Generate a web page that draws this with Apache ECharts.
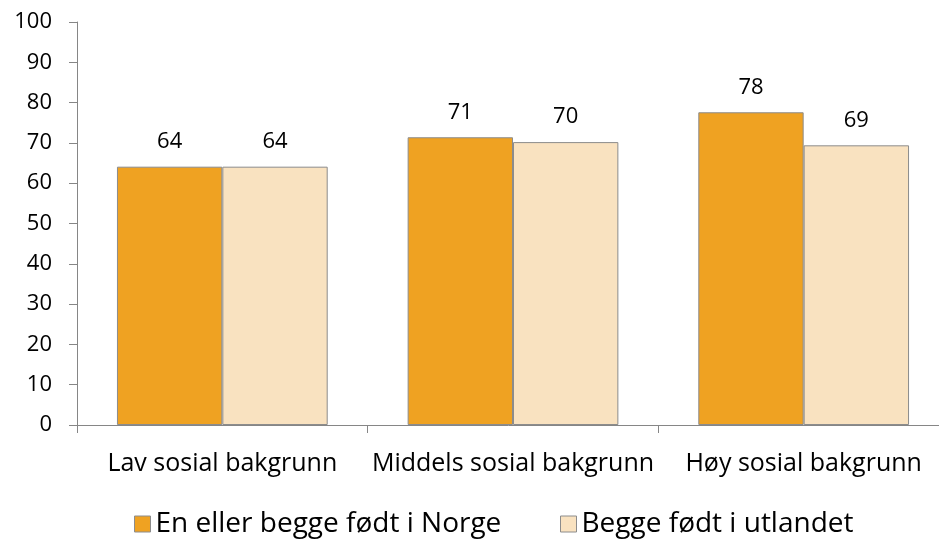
<!DOCTYPE html>
<html lang="no">

<head>
    <meta charset="UTF-8">
    <title>Sosial bakgrunn</title>
    <style>
        * {
            margin: 0;
            padding: 0;
        }

        #main {
            width: 939px;
            height: 541px;
            background-color: #ffffff;
        }
    </style>
</head>
<script src="https://cdn.jsdelivr.net/npm/echarts@6/dist/echarts.min.js"></script>

<body>
    <div id="main"></div>
    <script>
        // data
        var categories = ['Lav sosial bakgrunn', 'Middels sosial bakgrunn', 'Høy sosial bakgrunn'];
        var seriesNames = ['En eller begge født i Norge', 'Begge født i utlandet'];
        var norge = [64.1, 71.4, 77.6];
        var utlandet = [64.1, 70.2, 69.4];

        var colors = ['#EFA222', '#F9E2C0'];
        var fontFam = 'Open Sans';
        var greyLine = '#868686';

        var chartDom = document.getElementById('main');
        var myChart = echarts.init(chartDom);

        function barSeries(name, data, color) {
            return {
                name: name,
                type: 'bar',
                data: data,
                barGap: '0%',
                barCategoryGap: '27.5%',
                itemStyle: {
                    color: color,
                    borderColor: '#8c8c8c',
                    borderWidth: 1
                },
                label: {
                    show: true,
                    position: 'top',
                    distance: 14,
                    color: '#000000',
                    fontFamily: fontFam,
                    fontSize: 22,
                    formatter: function (p) {
                        return Math.round(p.value);
                    }
                }
            };
        }

        var legendCommon = {
            icon: 'rect',
            itemWidth: 16,
            itemHeight: 16,
            itemGap: 10,
            top: 505,
            textStyle: {
                color: '#000000',
                fontFamily: fontFam,
                fontSize: 28
            }
        };

        var option = {
            backgroundColor: '#ffffff',
            animation: false,
            color: colors,
            grid: {
                left: 77,
                width: 872,
                top: 22,
                height: 403,
                outerBoundsMode: 'none'
            },
            legend: [
                Object.assign({}, legendCommon, {
                    left: 129,
                    data: [seriesNames[0]],
                    itemStyle: { borderColor: '#8c8c8c', borderWidth: 1 }
                }),
                Object.assign({}, legendCommon, {
                    left: 555,
                    data: [seriesNames[1]],
                    itemStyle: { borderColor: '#8c8c8c', borderWidth: 1 }
                })
            ],
            xAxis: {
                type: 'category',
                data: categories,
                axisLine: { show: true, lineStyle: { color: greyLine, width: 1 } },
                axisTick: { show: true, length: 8, lineStyle: { color: greyLine } },
                axisLabel: {
                    interval: 0,
                    color: '#000000',
                    fontFamily: fontFam,
                    fontSize: 25,
                    margin: 26
                }
            },
            yAxis: {
                type: 'value',
                min: 0,
                max: 100,
                interval: 10,
                splitLine: { show: false },
                axisLine: { show: true, lineStyle: { color: greyLine, width: 1 } },
                axisTick: { show: true, length: 8, lineStyle: { color: greyLine } },
                axisLabel: {
                    color: '#000000',
                    fontFamily: fontFam,
                    fontSize: 22,
                    margin: 25
                }
            },
            series: [
                barSeries(seriesNames[0], norge, colors[0]),
                barSeries(seriesNames[1], utlandet, colors[1])
            ]
        };

        option && myChart.setOption(option);
    </script>
</body>

</html>
